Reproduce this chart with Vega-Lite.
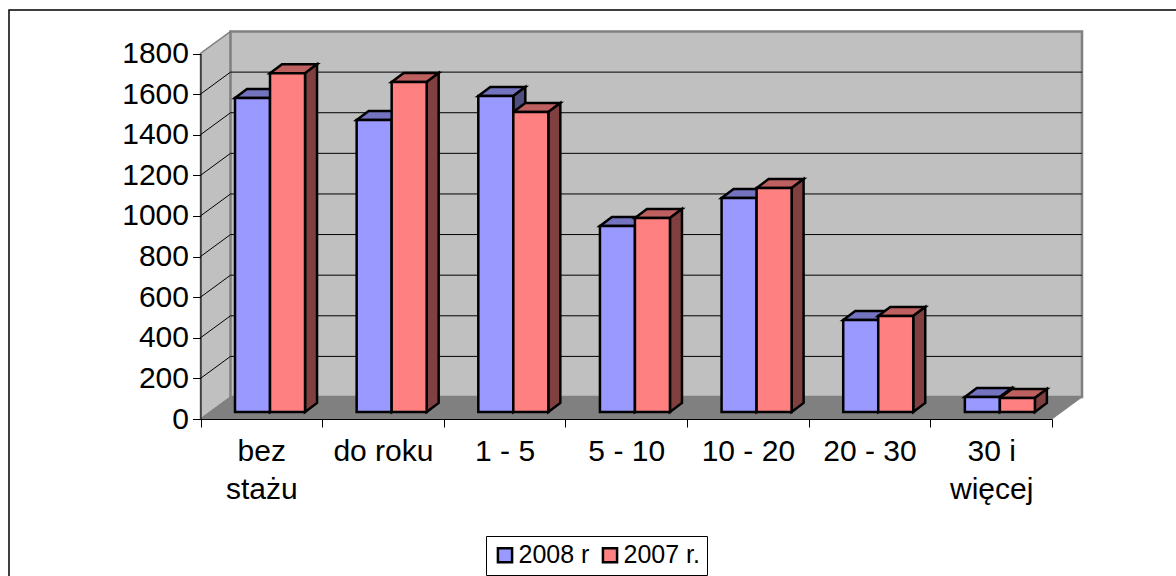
{
"$schema":"https://vega.github.io/schema/vega-lite/v6.json",
"width":1172,"height":570,
"autosize":{"type":"none"},
"padding":{"left":9,"top":10,"right":0,"bottom":0},
"background":"white",
"view":{"stroke":"black","strokeWidth":1.5,"fill":"white"},
"config":{"font":"Liberation Sans"},
"encoding":{
 "x":{"field":"x","type":"quantitative","scale":{"domain":[0,7],"range":[191.5,1043],"nice":false,"zero":false},
  "axis":{"title":null,"orient":"bottom","offset":-161,"values":[0,1,2,3,4,5,6,7],"grid":false,"zindex":1,"domainColor":"black","domainWidth":1,"tickColor":"black","tickSize":8,"tickWidth":1,"labelFont":"Liberation Sans","labelFontSize":30,"labelColor":"black","labelAlign":"center","labelBaseline":"top","labelOffset":60.8,"labelPadding":9,"labelLineHeight":38,"labelOverlap":false,"labelBound":false,"labelFlush":false,
  "labelExpr":"[['bez','stażu'],'do roku','1 - 5','5 - 10','10 - 20','20 - 30',['30 i','więcej'],''][datum.value]"}},
 "y":{"field":"y","type":"quantitative","scale":{"domain":[0,1800],"range":[409,43.5],"nice":false,"zero":false},
  "axis":{"title":null,"orient":"left","offset":-191.5,"values":[0,200,400,600,800,1000,1200,1400,1600,1800],"grid":false,"zindex":1,"domainColor":"black","domainWidth":1,"tickColor":"black","tickSize":8,"tickWidth":1,"labelFont":"Liberation Sans","labelFontSize":30,"labelColor":"black","labelPadding":4,"labelOverlap":false,"labelBound":false,"labelFlush":false,"format":"d"}}
},
"layer":[
 {"data":{"values":[{"t":0},{"t":1}]},
  "transform":[{"calculate":"datum.t*0.2467","as":"x"},{"calculate":"datum.t*108.3","as":"y"},{"calculate":"1800+datum.t*108.3","as":"y2"}],
  "mark":{"type":"area","fill":"#C0C0C0","stroke":"#808080","strokeWidth":1.5},
  "encoding":{"y2":{"field":"y2"}}},
 {"data":{"values":[{"t":0}]},
  "transform":[{"calculate":"0.2467","as":"x"},{"calculate":"7.2467","as":"x2"},{"calculate":"108.3","as":"y"},{"calculate":"1908.3","as":"y2"}],
  "mark":{"type":"rect","fill":"#C0C0C0","stroke":"#808080","strokeWidth":2.5},
  "encoding":{"x2":{"field":"x2"},"y2":{"field":"y2"}}},
 {"data":{"values":[{"t":0},{"t":1},{"t":2},{"t":3}]},
  "transform":[{"calculate":"[0,0.2467,7,7.2467][datum.t]","as":"x"},{"calculate":"[0,0,0,108.3][datum.t]","as":"y"},{"calculate":"[0,108.3,108.3,108.3][datum.t]","as":"y2"}],
  "mark":{"type":"area","fill":"#808080","stroke":"#808080","strokeWidth":1},
  "encoding":{"y2":{"field":"y2"}}},
 {"data":{"values":[{"v":200},{"v":400},{"v":600},{"v":800},{"v":1000},{"v":1200},{"v":1400},{"v":1600}]},
  "transform":[{"calculate":"0.2467","as":"x"},{"calculate":"7.2467","as":"x2"},{"calculate":"datum.v+108.3","as":"y"}],
  "mark":{"type":"rule","stroke":"black","strokeWidth":1},
  "encoding":{"x2":{"field":"x2"}}},
 {"data":{"values":[{"v":200},{"v":400},{"v":600},{"v":800},{"v":1000},{"v":1200},{"v":1400},{"v":1600}]},
  "transform":[{"calculate":"0","as":"x"},{"calculate":"0.2467","as":"x2"},{"calculate":"datum.v","as":"y"},{"calculate":"datum.v+108.3","as":"y2"}],
  "mark":{"type":"rule","stroke":"black","strokeWidth":1},
  "encoding":{"x2":{"field":"x2"},"y2":{"field":"y2"}}},
 {"data":{"values":[
  {"category":"bez stażu","i":0,"series":"2008 r","value":1546},{"category":"bez stażu","i":0,"series":"2007 r.","value":1668},
  {"category":"do roku","i":1,"series":"2008 r","value":1438},{"category":"do roku","i":1,"series":"2007 r.","value":1625},
  {"category":"1 - 5","i":2,"series":"2008 r","value":1556},{"category":"1 - 5","i":2,"series":"2007 r.","value":1477},
  {"category":"5 - 10","i":3,"series":"2008 r","value":916},{"category":"5 - 10","i":3,"series":"2007 r.","value":955},
  {"category":"10 - 20","i":4,"series":"2008 r","value":1054},{"category":"10 - 20","i":4,"series":"2007 r.","value":1103},
  {"category":"20 - 30","i":5,"series":"2008 r","value":453},{"category":"20 - 30","i":5,"series":"2007 r.","value":473},
  {"category":"30 i więcej","i":6,"series":"2008 r","value":74},{"category":"30 i więcej","i":6,"series":"2007 r.","value":69}
  ]},
  "transform":[
   {"calculate":"datum.i+0.2837+(datum.series==='2007 r.'?0.2878:0)","as":"x0"},
   {"calculate":"datum.x0+0.2878","as":"x1"},
   {"calculate":"datum.value+34.5","as":"V"}
  ],
  "layer":[
   {"transform":[{"filter":"datum.series==='2008 r'"},{"calculate":"[0,1,2,3]","as":"t"},{"flatten":["t"]},
     {"calculate":"[datum.x0,datum.x0+0.0987,datum.x1,datum.x1+0.0987][datum.t]","as":"x"},
     {"calculate":"[datum.V,datum.V,datum.V,datum.V+44.3][datum.t]","as":"y"},
     {"calculate":"[datum.V,datum.V+44.3,datum.V+44.3,datum.V+44.3][datum.t]","as":"y2"}],
    "mark":{"type":"area","fill":"#7373BF","stroke":"black","strokeWidth":2.5},
    "encoding":{"y2":{"field":"y2"},"detail":{"field":"category"}}},
   {"transform":[{"filter":"datum.series==='2008 r'"},{"calculate":"[0,1]","as":"t"},{"flatten":["t"]},
     {"calculate":"datum.x1+datum.t*0.0987","as":"x"},
     {"calculate":"34.5+datum.t*44.3","as":"y"},
     {"calculate":"datum.V+datum.t*44.3","as":"y2"}],
    "mark":{"type":"area","fill":"#4D4D80","stroke":"black","strokeWidth":2.5},
    "encoding":{"y2":{"field":"y2"},"detail":{"field":"category"}}},
   {"transform":[{"filter":"datum.series==='2007 r.'"},{"calculate":"[0,1,2,3]","as":"t"},{"flatten":["t"]},
     {"calculate":"[datum.x0,datum.x0+0.0987,datum.x1,datum.x1+0.0987][datum.t]","as":"x"},
     {"calculate":"[datum.V,datum.V,datum.V,datum.V+44.3][datum.t]","as":"y"},
     {"calculate":"[datum.V,datum.V+44.3,datum.V+44.3,datum.V+44.3][datum.t]","as":"y2"}],
    "mark":{"type":"area","fill":"#BF6060","stroke":"black","strokeWidth":2.5},
    "encoding":{"y2":{"field":"y2"},"detail":{"field":"category"}}},
   {"transform":[{"filter":"datum.series==='2007 r.'"},{"calculate":"[0,1]","as":"t"},{"flatten":["t"]},
     {"calculate":"datum.x1+datum.t*0.0987","as":"x"},
     {"calculate":"34.5+datum.t*44.3","as":"y"},
     {"calculate":"datum.V+datum.t*44.3","as":"y2"}],
    "mark":{"type":"area","fill":"#804040","stroke":"black","strokeWidth":2.5},
    "encoding":{"y2":{"field":"y2"},"detail":{"field":"category"}}},
   {"transform":[{"calculate":"datum.x0","as":"x"},{"calculate":"34.5","as":"y"}],
    "mark":{"type":"rect","stroke":"black","strokeWidth":2.5},
    "encoding":{"x2":{"field":"x1"},"y2":{"field":"V"},
     "fill":{"field":"series","type":"nominal","scale":{"domain":["2008 r","2007 r."],"range":["#9999FF","#FF8080"]},
      "legend":{"orient":"none","legendX":477,"legendY":526,"direction":"horizontal","title":null,"symbolType":"square","symbolSize":200,"symbolStrokeWidth":2.5,"symbolStrokeColor":"black","labelFont":"Liberation Sans","labelFontSize":25,"labelColor":"black","strokeColor":"black","fillColor":"white","padding":6.5,"columnPadding":8,"labelOffset":1,"symbolOffset":0}}}}
  ]}
]
}
